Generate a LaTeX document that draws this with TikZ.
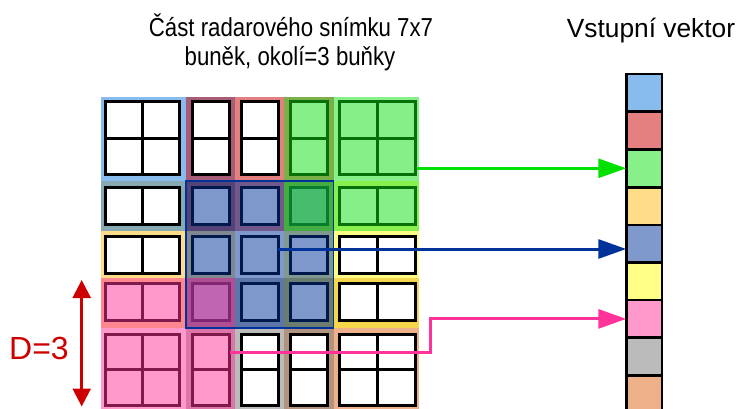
\documentclass[tikz,border=0pt]{standalone}
\usepackage{fontspec}
\setmainfont{Liberation Sans}
\usetikzlibrary{arrows.meta}
\definecolor{cTL}{RGB}{17,119,221}
\definecolor{cT}{RGB}{200,0,0}
\definecolor{cTR}{RGB}{17,225,17}
\definecolor{cL}{RGB}{255,187,17}
\definecolor{cC}{RGB}{0,51,153}
\definecolor{cR}{RGB}{255,255,17}
\definecolor{cBL}{RGB}{255,51,153}
\definecolor{cB}{RGB}{119,119,119}
\definecolor{cBR}{RGB}{221,97,17}
\definecolor{dred}{RGB}{204,0,0}
\definecolor{garrow}{RGB}{0,225,0}
\begin{document}
\begin{tikzpicture}[x=1pt,y=-1pt,
  cellbox/.style={draw=black, line width=3pt, fill=white},
  region/.style={fill opacity=0.5},
  overlay/.style={fill opacity=0.5},
  vcell/.style={draw=black, line width=2.5pt, minimum width=35.5pt, minimum height=37.7pt, inner sep=0pt, outer sep=0pt},
  conn/.style={line width=3pt, -{Triangle[length=28pt,width=19pt]}},
  title/.style={anchor=base, font=\fontsize{26}{30}\selectfont}
]
\useasboundingbox (0,0) rectangle (738,408);

% region backgrounds (3x3-cell neighbourhoods)
\fill[region, cL]  (101,181)   rectangle (235,328);
\fill[region, cBR] (284,278)   rectangle (419,412);
\fill[region, cB]  (186,278)   rectangle (333.5,412);
\fill[region, cTL] (101,96.5)  rectangle (235,230.5);
\fill[region, cT]  (186,96.5)  rectangle (333.5,230.5);
\fill[region, cR]  (284,181)   rectangle (419,328);
\fill[region, cC]  (186,181)   rectangle (333.5,328);
\fill[region, cTR] (284,96.5)  rectangle (419,230.5);
\fill[region, cBL] (101,278)   rectangle (235,412);
\draw[cC, line width=1.5pt] (186,181) rectangle (333.5,328);

% cells of the 7x7 grid
\foreach \xl/\xr in {105.5/142.5,142.5/179.5,192.5/229,241.5/278,290.5/327.5,339/377,377/415}
  \foreach \yt/\yb in {101.5/138,138/174.5,187.5/224.5,236.5/273,283/320.5,334/369.5,369.5/405}
    \draw[cellbox] (\xl,\yt) rectangle (\xr,\yb);

% highlighted cells: centre (blue)
\foreach \xl/\xr in {192.5/229,241.5/278,290.5/327.5}
  \foreach \yt/\yb in {187.5/224.5,236.5/273,283/320.5}
    \fill[overlay, cC] (\xl-1.5,\yt-1.5) rectangle (\xr+1.5,\yb+1.5);
% top-right (green)
\fill[overlay, cTR] (289,100) rectangle (329,176);
\fill[overlay, cTR] (337.5,100) rectangle (416.5,176);
\fill[overlay, cTR] (289,186) rectangle (329,226);
\fill[overlay, cTR] (337.5,186) rectangle (416.5,226);
% bottom-left (pink)
\fill[overlay, cBL] (104,281.5) rectangle (181,322);
\fill[overlay, cBL] (191,281.5) rectangle (230.5,322);
\fill[overlay, cBL] (104,332.5) rectangle (181,406.5);
\fill[overlay, cBL] (191,332.5) rectangle (230.5,406.5);

% input vector
\node[vcell, fill=cTL!50] (v1) at (644,92.85) {};
\node[vcell, fill=cT!50]  (v2) at (644,130.5) {};
\node[vcell, fill=cTR!50] (v3) at (644,168.3) {};
\node[vcell, fill=cL!50]  (v4) at (644,206.2) {};
\node[vcell, fill=cC!50]  (v5) at (644,243.9) {};
\node[vcell, fill=cR!50]  (v6) at (644,281.4) {};
\node[vcell, fill=cBL!50] (v7) at (644,318.9) {};
\node[vcell, fill=cB!50]  (v8) at (644,356.5) {};
\node[vcell, fill=cBR!50] (v9) at (644,394.2) {};

% connectors
\coordinate (gs) at (417,168.3);
\coordinate (bs) at (278,249);
\coordinate (ps) at (230,352);
\draw[conn, garrow] (gs) -- (gs -| v3.west);
\draw[conn, cC] (bs) -- (bs -| v5.west);
\draw[conn, cBL] (ps) -- ++(200,0) |- (v7.west);

% D=3 dimension
\coordinate (dtop) at (81.7,280);
\coordinate (dbot) at (81.7,406.5);
\draw[dred, line width=2.5pt, {Triangle[length=18pt,width=18pt]}-{Triangle[length=18pt,width=18pt]}] (dtop) -- (dbot);
\node[anchor=base, text=dred, font=\fontsize{32}{36}\selectfont] (dl) at (39,359) {D=3};

% texts
\node[title] (t1) at (291,36) {\scalebox{0.855}[1]{Část radarového snímku 7x7}};
\node[title] (t2) at (290,65.7) {\scalebox{0.855}[1]{buněk, okolí=3 buňky}};
\node[anchor=base, font=\fontsize{26.3}{30}\selectfont] (t3) at (651,37) {Vstupní vektor};
\end{tikzpicture}
\end{document}
